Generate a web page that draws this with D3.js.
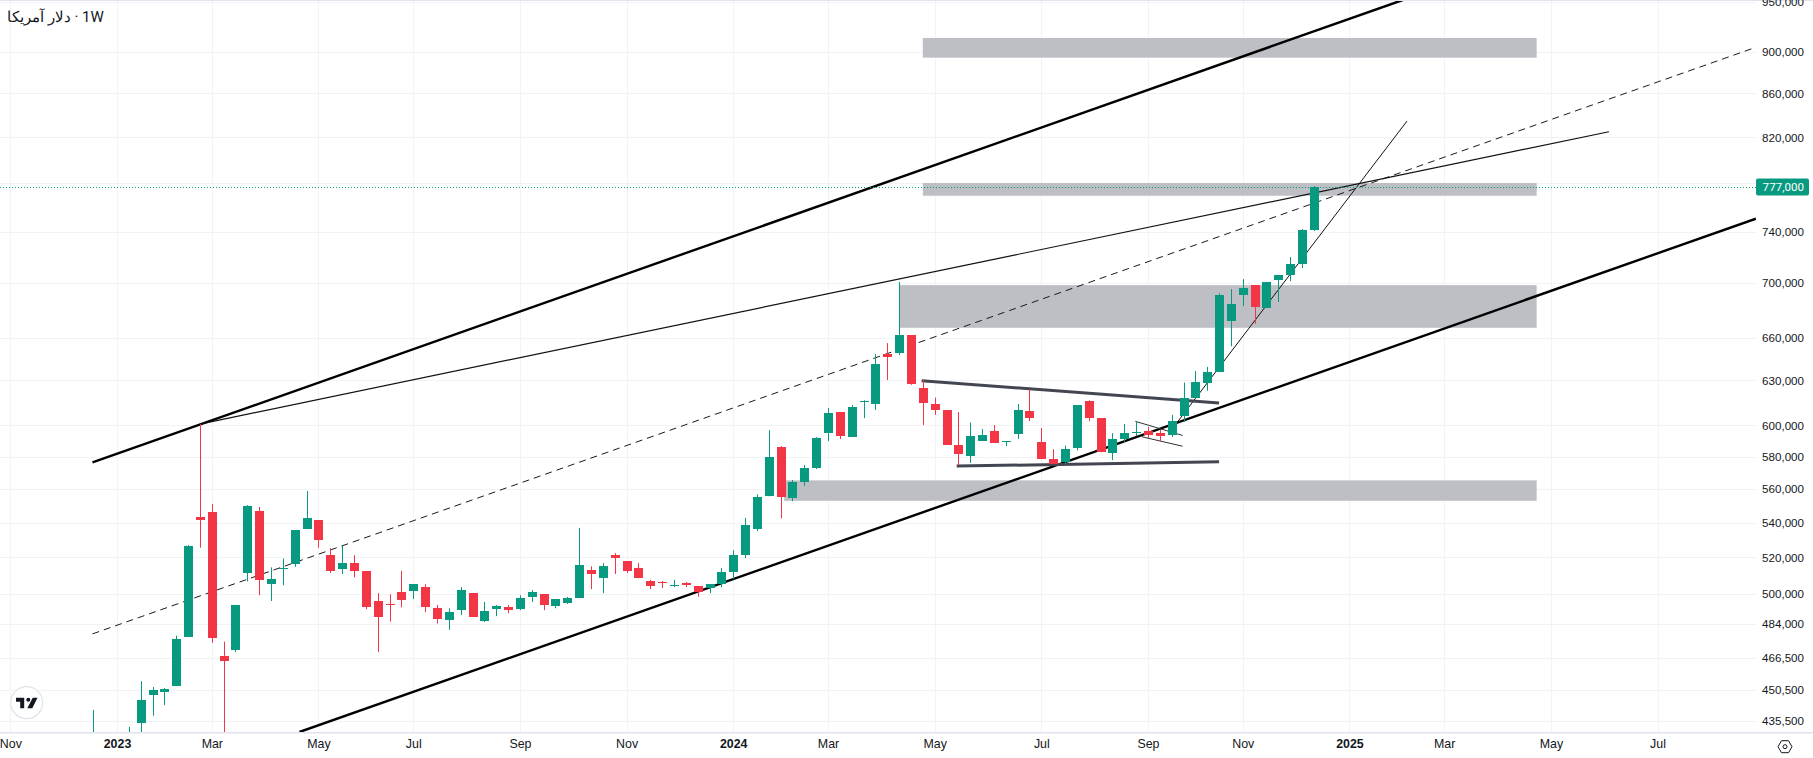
<!DOCTYPE html>
<html>
<head>
<meta charset="utf-8">
<title>1W</title>
<script src="https://cdn.jsdelivr.net/npm/d3@7/dist/d3.min.js"></script>
<style>
   html, body { margin: 0; padding: 0; background: #fff; overflow: hidden; }
   svg { display: block; font-family: Roboto, sans-serif; }
   .price text { font-size: 11.6px; fill: #131722; text-anchor: end; }
   .time text { font-size: 12.4px; fill: #131722; }
   .time text.year { font-weight: 600; }
</style>
</head>
<body>
<svg id="chart" width="1813" height="758"></svg>
<script>
/*global d3*/
var title = "دلار آمریکا\u200E · 1W";

//time axis, in weeks counted from the bar of 2 Jan 2023
var firstWeek = -2;
var monthWeeks = [-9, 0, 8, 17, 25, 34, 43, 52, 60, 69, 78, 87, 95, 104, 112, 121, 130];
var monthLabels = ["Nov", "2023", "Mar", "May", "Jul", "Sep", "Nov", "2024", "Mar", "May", "Jul", "Sep", "Nov", "2025", "Mar", "May", "Jul"];
var priceTicks = [950000, 900000, 860000, 820000, 780000, 740000, 700000, 660000, 630000, 600000, 580000, 560000, 540000, 520000, 500000, 484000, 466500, 450500, 435500];

var opens = [424000, 428000, 425000, 427000, 434600, 448200, 449700, 452600, 477000, 543000, 546200, 467500, 470500,
   511300, 546800, 505100, 513400, 516200, 536200, 541300, 521200, 513400, 516800, 512400, 496000, 494400,
   500900, 501300, 503500, 492100, 485800, 491100, 500200, 485300, 491600, 492600, 491600, 498200, 499700,
   493200, 494900, 497500, 513000, 508400, 521200, 518000, 514000, 506900, 506300, 504000, 505800, 504000,
   503000, 505100, 511900, 521200, 536200, 555600, 586000, 554500, 564300, 572900, 595000, 608800, 592500,
   615200, 614100, 648200, 648900, 661800, 625000, 614100, 610200, 587600, 580400, 589900, 596300, 589300,
   594400, 609500, 589300, 578500, 576700, 585300, 615900, 604800, 582200, 591200, 595000, 596300, 595000,
   593700, 606200, 617900, 628200, 635800, 672000, 690900, 698600, 681400, 702300, 706200, 714700, 741600];
var highs = [440700, 429500, 429000, 432700, 454700, 451800, 451300, 477700, 527000, 600900, 550900, 474600, 493800,
   550300, 549200, 514400, 519400, 535600, 558800, 541300, 525200, 526800, 521200, 512400, 500200, 499600,
   512400, 505100, 505100, 493800, 492100, 503500, 500200, 495500, 493800, 493800, 499100, 501900, 499700,
   496900, 498200, 536900, 515000, 516800, 522400, 518000, 516800, 507500, 506900, 507500, 506300, 504000,
   505100, 514000, 524100, 542700, 556800, 596900, 586700, 565500, 574800, 592400, 611400, 608800, 613400,
   616600, 648200, 656000, 701000, 661800, 630300, 618400, 610200, 608800, 602000, 597700, 600200, 589900,
   614100, 623700, 598300, 584700, 587000, 613400, 616600, 604800, 595000, 600900, 602800, 598900, 597000,
   606900, 628500, 636500, 639300, 692400, 695600, 703200, 698600, 701000, 706200, 720200, 742400, 777900];
var lows = [420000, 420000, 418000, 422000, 425000, 438000, 443000, 452600, 477000, 525500, 474000, 425000, 469200,
   506600, 499100, 496000, 504500, 514700, 536200, 525500, 511300, 510700, 508900, 491600, 469200, 485000,
   492600, 497000, 490000, 484000, 480700, 488500, 487400, 484800, 487900, 489500, 491100, 495500, 491100,
   492100, 494400, 497500, 502400, 500200, 510700, 511300, 508400, 502400, 503000, 503500, 503500, 498200,
   500200, 503500, 507900, 519600, 535000, 555600, 542500, 552700, 561900, 572300, 589900, 591200, 592500,
   604800, 610200, 630300, 647500, 627000, 600200, 606900, 587600, 574800, 576100, 589900, 588600, 586700,
   591200, 602800, 578500, 575400, 575400, 584000, 602800, 582800, 577900, 589300, 593100, 591800, 589900,
   592500, 602200, 617900, 623000, 635800, 653800, 682900, 669900, 681400, 685900, 701700, 711600, 740800];
var closes = [428000, 425000, 427000, 429000, 445400, 450500, 451000, 476200, 526500, 541000, 476500, 465100, 493800,
   549800, 507500, 507900, 514000, 535600, 542500, 529800, 512400, 516800, 512400, 492600, 487400, 493800,
   496500, 505100, 492600, 486300, 490000, 501900, 487400, 490500, 493200, 491100, 497500, 500900, 493800,
   496900, 497500, 515500, 510700, 515000, 519600, 512400, 508400, 504000, 505800, 504500, 504500, 500900,
   505100, 511900, 521200, 538500, 555000, 579600, 555000, 564300, 572900, 591800, 608100, 593100, 612100,
   615900, 641200, 646100, 661800, 627600, 615200, 610200, 587600, 581700, 593100, 593700, 588600, 589900,
   610200, 604800, 578500, 575400, 584700, 613400, 604800, 582800, 591200, 595000, 595600, 593700, 593100,
   602800, 617900, 628900, 635800, 690900, 684400, 696400, 682200, 701000, 706200, 714700, 741600, 777000];
var lastPrice = 777000;

//grey zones: from week, to week, upper price, lower price
var zoneFrom = [68, 68, 66, 56.3];
var zoneTo = [119.8, 119.8, 119.8, 119.8];
var zoneTop = [913300, 780400, 698600, 565300];
var zoneBottom = [894000, 769700, 667000, 552900];

//drawn lines: start week, start price, end week, end price
var channelTop = [-2.07, 576400, 108.5, 951700];
var channelBottom = [15.4, 430300, 138.3, 750800];
var channelMiddle = [-2.07, 478600, 138.3, 904100];
var topTrend = [7, 600900, 125.9, 825000];
var steepTrend = [89.03, 597600, 108.86, 834600];
var wedgeUpper = [67.9, 629800, 93, 614700];
var wedgeLower = [70.86, 574100, 93, 576800];
var flagUpper = [85.93, 602700, 89.93, 593500];
var flagLower = [86.47, 592700, 89.93, 586600];

(function () {
   "use strict";

   var paneW = 1756,
      paneH = 732,
      green = "#089981",
      red = "#f23645",
      gridColor = "#f2f3f6",
      borderColor = "#e0e3eb",
      svg = d3.select("#chart"),
      x = d3.scaleLinear().domain([-9.873, 138.31]).range([0, paneW]),
      y = d3.scaleLog().domain([951700, 430300]).range([0, paneH]),
      pane,
      bars,
      badge;

   function drawLine(seg, width, color, dash) {
      pane.append("line")
         .attr("x1", x(seg[0]))
         .attr("y1", y(seg[1]))
         .attr("x2", x(seg[2]))
         .attr("y2", y(seg[3]))
         .attr("stroke", color)
         .attr("stroke-width", width)
         .attr("stroke-dasharray", dash || null);
   }

   svg.append("clipPath").attr("id", "paneClip")
      .append("rect").attr("width", paneW).attr("height", paneH);

   pane = svg.append("g").attr("clip-path", "url(#paneClip)");

   //grid
   pane.selectAll(".gridH").data(priceTicks).enter().append("line")
      .attr("x1", 0).attr("x2", paneW)
      .attr("y1", function (d) { return Math.round(y(d)) + 0.5; })
      .attr("y2", function (d) { return Math.round(y(d)) + 0.5; })
      .attr("stroke", gridColor);
   pane.selectAll(".gridV").data(monthWeeks).enter().append("line")
      .attr("y1", 0).attr("y2", paneH)
      .attr("x1", function (d) { return Math.round(x(d)) + 0.5; })
      .attr("x2", function (d) { return Math.round(x(d)) + 0.5; })
      .attr("stroke", gridColor);

   //zones
   pane.selectAll(".zone").data(zoneFrom).enter().append("rect")
      .attr("x", function (d) { return x(d); })
      .attr("y", function (d, i) { return y(zoneTop[i]); })
      .attr("width", function (d, i) { return x(zoneTo[i]) - x(d); })
      .attr("height", function (d, i) { return y(zoneBottom[i]) - y(zoneTop[i]); })
      .attr("fill", "#bebfc4");

   //drawings sit under the candles
   drawLine(channelTop, 2.4, "#000");
   drawLine(channelBottom, 2.4, "#000");
   drawLine(channelMiddle, 1, "#1a1a1a", "7,5");
   drawLine(topTrend, 1.2, "#111");
   drawLine(steepTrend, 1, "#111");
   drawLine(wedgeUpper, 3, "#434651");
   drawLine(wedgeLower, 3, "#434651");
   drawLine(flagUpper, 1, "#333");
   drawLine(flagLower, 1, "#333");

   //candles
   bars = pane.selectAll(".bar").data(opens).enter().append("g")
      .attr("fill", function (d, i) { return closes[i] >= d ? green : red; });
   bars.append("rect")
      .attr("x", function (d, i) { return Math.round(x(i + firstWeek)); })
      .attr("width", 1)
      .attr("y", function (d, i) { return y(highs[i]); })
      .attr("height", function (d, i) { return y(lows[i]) - y(highs[i]); });
   bars.append("rect")
      .attr("x", function (d, i) { return Math.round(x(i + firstWeek)) - 4; })
      .attr("width", 9)
      .attr("y", function (d, i) { return Math.round(y(Math.max(d, closes[i]))); })
      .attr("height", function (d, i) {
         return Math.max(1, Math.round(Math.abs(y(d) - y(closes[i]))));
      });

   //last price line
   pane.append("line")
      .attr("x1", 0).attr("x2", paneW)
      .attr("y1", Math.round(y(lastPrice)) + 0.5)
      .attr("y2", Math.round(y(lastPrice)) + 0.5)
      .attr("stroke", green)
      .attr("stroke-dasharray", "1,2");

   //frame
   svg.append("rect").attr("width", 1813).attr("height", 1).attr("fill", borderColor);
   svg.append("rect").attr("y", paneH).attr("width", 1813).attr("height", 1.5).attr("fill", borderColor);

   //axes
   svg.append("g").attr("class", "price")
      .attr("transform", "translate(1804,0)")
      .call(d3.axisRight(y).tickValues(priceTicks).tickFormat(d3.format(",")).tickSize(0).tickPadding(0))
      .call(function (g) { g.select(".domain").remove(); });

   svg.append("g").attr("class", "time")
      .attr("transform", "translate(0," + (paneH + 7) + ")")
      .call(d3.axisBottom(x).tickValues(monthWeeks)
         .tickFormat(function (d) { return monthLabels[monthWeeks.indexOf(d)]; })
         .tickSize(0).tickPadding(0))
      .call(function (g) {
         g.select(".domain").remove();
         g.selectAll("text").classed("year", function (d, i) { return (/^\d+$/).test(monthLabels[i]); });
      });

   //last price badge
   badge = svg.append("g").attr("transform", "translate(" + paneW + "," + y(lastPrice) + ")");
   badge.append("rect")
      .attr("x", 0).attr("y", -8.5)
      .attr("width", 53).attr("height", 17)
      .attr("rx", 2)
      .attr("fill", green);
   badge.append("text")
      .attr("x", 48).attr("dy", "0.35em")
      .attr("text-anchor", "end")
      .attr("font-size", "11.6px")
      .attr("fill", "#fff")
      .text(d3.format(",")(lastPrice));

   //title
   svg.append("text")
      .attr("x", 7).attr("y", 22)
      .attr("font-size", "15px")
      .attr("fill", "#131722")
      .text(title);

   //logo
   var logo = svg.append("g").attr("transform", "translate(26.7,702.7)");
   logo.append("circle").attr("r", 16).attr("fill", "#fff").attr("stroke", "#e0e3eb").attr("stroke-width", 1.2);
   logo.append("path").attr("fill", "#131722")
      .attr("d", "M-10.7,-5 H-2.5 V5.5 H-6.5 V-1 H-10.7 Z M6,-5 H10.8 L5.6,5.5 H0.6 Z");
   logo.append("circle").attr("cx", 1.6).attr("cy", -3).attr("r", 2).attr("fill", "#131722");

   //settings icon
   var gear = svg.append("g")
      .attr("transform", "translate(1785,746.7)")
      .attr("fill", "none")
      .attr("stroke", "#131722");
   gear.append("path").attr("d", "M-7,0 L-3.5,-6 H3.5 L7,0 L3.5,6 H-3.5 Z");
   gear.append("circle").attr("r", 2);
}());
</script>
</body>
</html>
